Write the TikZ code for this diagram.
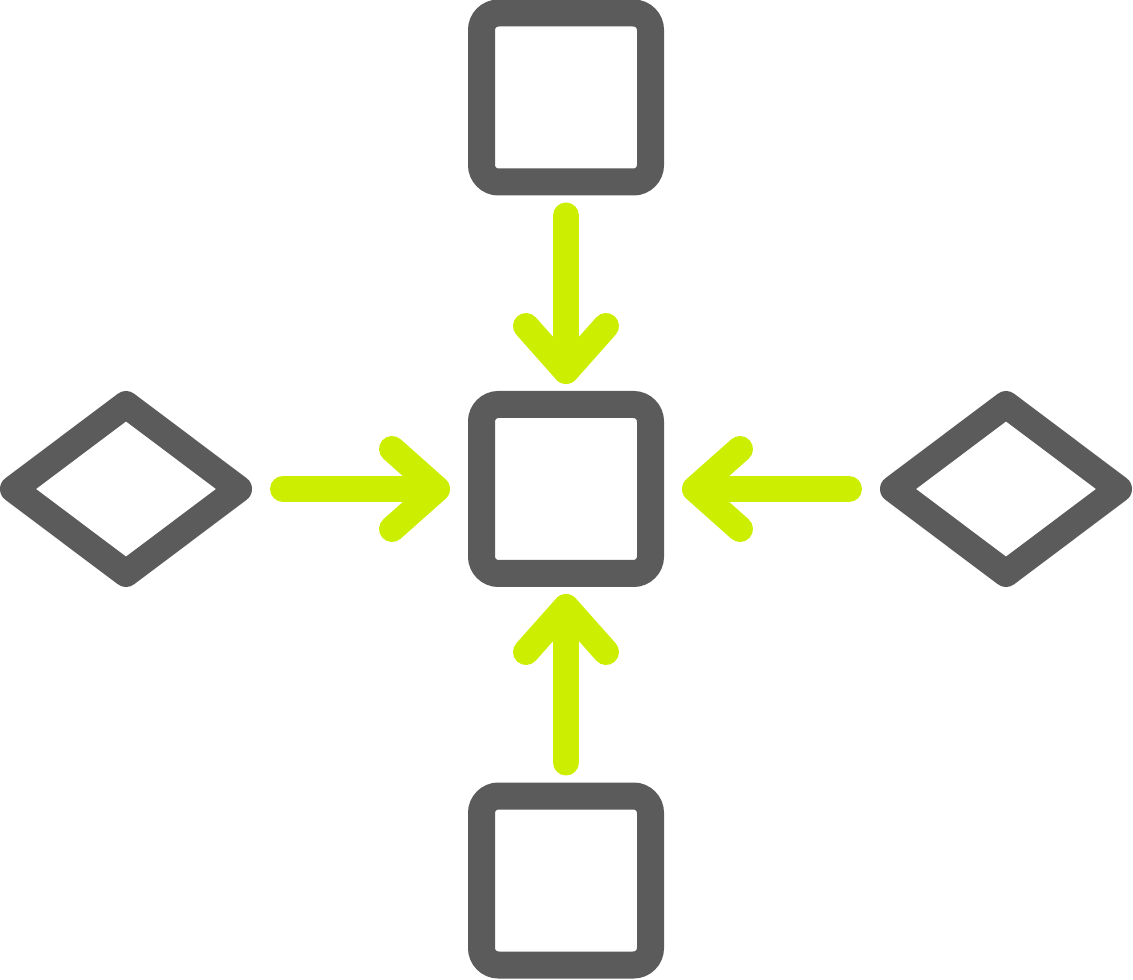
\documentclass[tikz,border=0pt]{standalone}
\usetikzlibrary{positioning,shapes.geometric,arrows.meta}
\definecolor{boxgray}{HTML}{5B5B5B}
\definecolor{arrowgreen}{HTML}{CCEE00}
\begin{document}
\begin{tikzpicture}
[x=0.75pt,y=-0.75pt,node distance=166.875pt and 182.25pt,
every node/.style={draw=boxgray,line width=20.25pt,outer sep=0pt,inner sep=0pt},
block/.style={rectangle,rounded corners=12.75pt,minimum width=126.75pt,minimum height=126.75pt},
choice/.style={diamond,line join=round,minimum width=168.75pt,minimum height=126.75pt},
flow/.style={draw=arrowgreen,line width=19.5pt,line cap=round,
  -{Straight Barb[length=33.75pt,width=60pt,line cap=round,line join=round]}},
]
\useasboundingbox (0,0) rectangle (1133,980);
\node[block] (hub) at (566,489) {};
\node[block,above=of hub] (top) {};
\node[block,below=of hub] (bottom) {};
\node[choice,left=of hub] (left) {};
\node[choice,right=of hub] (right) {};
% arrows into the hub
\draw[flow,shorten <=25.125pt,shorten >=15.375pt] (top) -- (hub);
\draw[flow,shorten <=25.125pt,shorten >=15.375pt] (bottom) -- (hub);
\draw[flow,shorten <=33.375pt,shorten >=23.625pt] (left) -- (hub);
\draw[flow,shorten <=33.375pt,shorten >=23.625pt] (right) -- (hub);
\end{tikzpicture}
\end{document}
